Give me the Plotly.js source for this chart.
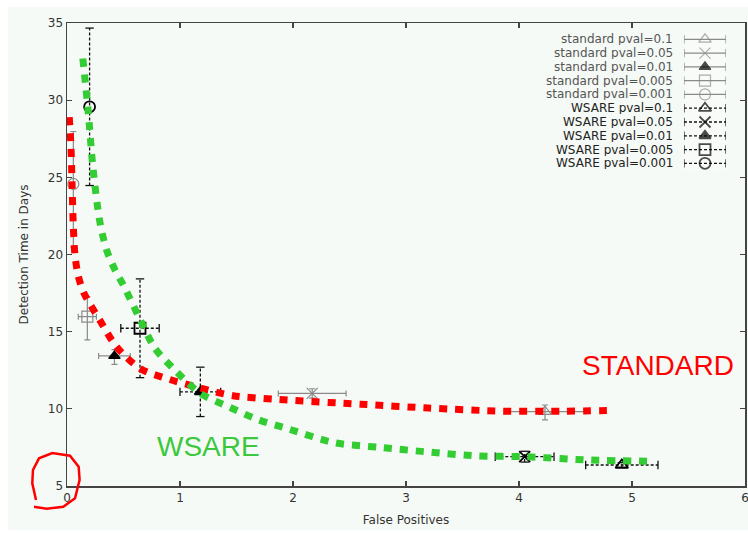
<!DOCTYPE html>
<html>
<head>
<meta charset="utf-8">
<script src="https://cdn.plot.ly/plotly-3.0.1.min.js"></script>
<style>html,body{margin:0;padding:0;background:#fff;}#chart{width:748px;height:533px;}</style>
</head>
<body>
<div id="chart"></div>
<script>
// ---- data ----
const pvals = ['0.1', '0.05', '0.01', '0.005', '0.001'];
const symbolsStd = ['triangle-up-open', 'x-thin-open', 'triangle-up', 'square-open', 'circle-open'];
const symbolsWs = ['triangle-up-open', 'x-thin-open', 'triangle-up', 'square-open', 'circle-open'];

// standard
const stdX = [4.23, 2.17, 0.42, 0.18, 0.056];
const stdY = [9.82, 11.0, 13.43, 15.97, 24.57];
const stdXErr = [0.36, 0.30, 0.14, 0.08, 0.0];
const stdYErrPlus = [0.43, 0.3, 0.4, 1.3, 3.4];
const stdYErrMinus = [0.54, 0.3, 0.55, 1.5, 4.1];

// WSARE
const wsX = [4.91, 4.05, 1.18, 0.646, 0.20];
const wsY = [6.36, 6.9, 11.1, 15.22, 29.57];
const wsXErr = [0.32, 0.26, 0.18, 0.17, 0.0];
const wsYErr = [0.15, 0.35, 1.6, 3.2, 5.1];

// fitted curves
const redX = [0.02, 0.035, 0.045, 0.055, 0.07, 0.1, 0.15, 0.29, 0.44, 0.65, 0.91, 1.18, 1.47, 1.88, 2.6, 3.2, 3.86, 4.4, 4.85];
const redY = [28.9, 27.0, 24.5, 22.0, 20.0, 18.6, 17.5, 15.75, 14.0, 12.6, 11.9, 11.35, 10.85, 10.6, 10.3, 10.05, 9.85, 9.85, 9.9];
const greenX = [0.14, 0.186, 0.23, 0.29, 0.35, 0.425, 0.5, 0.646, 0.78, 0.97, 1.18, 1.44, 1.69, 1.94, 2.37, 2.77, 3.2, 3.63, 4.04, 4.63, 5.2];
const greenY = [32.7, 29.4, 25.6, 22.15, 20.3, 19.0, 18.0, 15.8, 13.9, 12.4, 11.0, 10.1, 9.3, 8.74, 7.8, 7.5, 7.2, 6.95, 6.9, 6.68, 6.6];

const legendLabels = pvals.map(p => 'standard pval=' + p).concat(pvals.map(p => 'WSARE pval=' + p));

// ---- build traces ----
const FONT = 'DejaVu Sans, Arial, sans-serif';
const gray = '#8a8a8a';
const traces = [];

// standard points with native (solid) error bars
for (let i = 0; i < pvals.length; i++) {
  const filled = symbolsStd[i] === 'triangle-up';
  traces.push({
    x: [stdX[i]], y: [stdY[i]], type: 'scatter', mode: 'markers', showlegend: false,
    marker: {symbol: symbolsStd[i], size: filled ? 10 : 11,
             color: filled ? '#000' : gray,
             line: {color: filled ? '#000' : gray, width: 1.2}},
    error_x: {type: 'data', array: [stdXErr[i]], visible: stdXErr[i] > 0, color: gray, thickness: 1.2, width: 3},
    error_y: {type: 'data', array: [stdYErrPlus[i]], arrayminus: [stdYErrMinus[i]], symmetric: false, color: gray, thickness: 1.2, width: 3}
  });
}

// WSARE dashed error bars built from data
const wsSegX = [], wsSegY = [], capHX = [], capHY = [], capVX = [], capVY = [];
for (let i = 0; i < pvals.length; i++) {
  if (wsXErr[i] > 0) {
    wsSegX.push(wsX[i] - wsXErr[i], wsX[i] + wsXErr[i], null);
    wsSegY.push(wsY[i], wsY[i], null);
    capHX.push(wsX[i] - wsXErr[i], wsX[i] + wsXErr[i]);
    capHY.push(wsY[i], wsY[i]);
  }
  if (wsYErr[i] > 0) {
    wsSegX.push(wsX[i], wsX[i], null);
    wsSegY.push(wsY[i] - wsYErr[i], wsY[i] + wsYErr[i], null);
    capVX.push(wsX[i], wsX[i]);
    capVY.push(wsY[i] - wsYErr[i], wsY[i] + wsYErr[i]);
  }
}
traces.push({x: wsSegX, y: wsSegY, type: 'scatter', mode: 'lines', showlegend: false, hoverinfo: 'skip',
  line: {color: '#111', width: 1.3, dash: '3px,2px'}});
traces.push({x: capHX, y: capHY, type: 'scatter', mode: 'markers', showlegend: false, hoverinfo: 'skip',
  marker: {symbol: 'line-ns-open', size: 6, color: '#111', line: {color: '#111', width: 1.3}}});
traces.push({x: capVX, y: capVY, type: 'scatter', mode: 'markers', showlegend: false, hoverinfo: 'skip',
  marker: {symbol: 'line-ew-open', size: 6, color: '#111', line: {color: '#111', width: 1.3}}});
for (let i = 0; i < pvals.length; i++) {
  traces.push({
    x: [wsX[i]], y: [wsY[i]], type: 'scatter', mode: 'markers', showlegend: false,
    marker: {symbol: symbolsWs[i], size: symbolsWs[i] === 'triangle-up' ? 10 : 11, color: '#000',
             line: {color: '#000', width: 1.8}}
  });
}

// fitted dotted curves (on top)
traces.push({x: redX, y: redY, type: 'scatter', mode: 'lines', showlegend: false, hoverinfo: 'skip',
  line: {color: '#ff0000', width: 7, dash: '8px,8px', shape: 'spline', smoothing: 0.8}});
traces.push({x: greenX, y: greenY, type: 'scatter', mode: 'lines', showlegend: false, hoverinfo: 'skip',
  line: {color: '#33cc33', width: 7, dash: '8px,8px', shape: 'spline', smoothing: 0.8}});

// ---- legend (custom: text left, sample on the right) ----
const rows = legendLabels.map((_, i) => i + 1);
const lgStdLX = [], lgStdLY = [], lgWsLX = [], lgWsLY = [], lgCapX = [], lgCapY = [];
rows.forEach((r, i) => {
  if (i < 5) { lgStdLX.push(0, 1, null); lgStdLY.push(r, r, null); }
  else { lgWsLX.push(0, 1, null); lgWsLY.push(r, r, null); }
  lgCapX.push(0, 1); lgCapY.push(r, r);
});
const capColors = lgCapY.map(v => v <= 5 ? gray : '#111');
traces.push({x: lgStdLX, y: lgStdLY, xaxis: 'x2', yaxis: 'y2', type: 'scatter', mode: 'lines', showlegend: false, hoverinfo: 'skip',
  line: {color: gray, width: 1.2}});
traces.push({x: lgWsLX, y: lgWsLY, xaxis: 'x2', yaxis: 'y2', type: 'scatter', mode: 'lines', showlegend: false, hoverinfo: 'skip',
  line: {color: '#111', width: 1.3, dash: '3px,2px'}});
traces.push({x: lgCapX, y: lgCapY, xaxis: 'x2', yaxis: 'y2', type: 'scatter', mode: 'markers', showlegend: false, hoverinfo: 'skip',
  marker: {symbol: 'line-ns-open', size: 6, color: capColors, line: {color: capColors, width: 1.2}}});
const allSymbols = symbolsStd.concat(symbolsWs);
const sampleColors = rows.map(r => r <= 5 ? (r === 3 ? '#000' : gray) : '#000');
traces.push({x: rows.map(() => 0.5), y: rows, xaxis: 'x2', yaxis: 'y2', type: 'scatter', mode: 'markers', showlegend: false, hoverinfo: 'skip',
  marker: {symbol: allSymbols, size: allSymbols.map(s => s === 'triangle-up' ? 10 : 11),
           color: sampleColors,
           line: {color: sampleColors, width: rows.map(r => r <= 5 ? 1.2 : 1.8)}}});

const annotations = legendLabels.map((t, i) => ({
  text: t, xref: 'paper', yref: 'y2', x: 0.8957, y: i + 1, xanchor: 'right', yanchor: 'middle', showarrow: false,
  height: 12, borderpad: 0,
  font: {family: FONT, size: 12, color: i < 5 ? '#555' : '#222'}
}));
annotations.push({text: 'STANDARD', xref: 'x', yref: 'y', x: 5.23, y: 12.78, showarrow: false,
  font: {family: 'Liberation Sans, Arial, sans-serif', size: 28, color: '#ff0000'}});
annotations.push({text: 'WSARE', xref: 'x', yref: 'y', x: 1.25, y: 7.59, showarrow: false,
  font: {family: 'Liberation Sans, Arial, sans-serif', size: 28, color: '#3cc83c'}});

const circlePath = 'M -0.0457,-0.0302 L -0.0512,0.0058 L -0.0502,0.0346 L -0.0413,0.0598 L -0.0217,0.0711 ' +
  'L 0.0044,0.0653 L 0.0172,0.0417 L 0.0186,0.0130 L 0.0118,-0.0266 L -0.0055,-0.0447 L -0.0299,-0.0492 L -0.0487,-0.0447';

const axisCommon = {
  showgrid: false, zeroline: false, showline: true, linecolor: '#444', linewidth: 1.5, mirror: 'ticks',
  ticks: 'inside', ticklen: 5, tickcolor: '#444', tickwidth: 1.2, ticklabeloverflow: 'allow',
  tickfont: {family: FONT, size: 12, color: '#333'}
};

const layout = {
  width: 748, height: 533,
  margin: {l: 67, r: 3, t: 23, b: 47},
  paper_bgcolor: '#ffffff', plot_bgcolor: '#f8fbf8',
  xaxis: Object.assign({}, axisCommon, {range: [0, 6], tickvals: [0, 1, 2, 3, 4, 5, 6],
    title: {text: 'False Positives', font: {family: FONT, size: 12, color: '#333'}, standoff: 11}}),
  yaxis: Object.assign({}, axisCommon, {range: [5, 35], tickvals: [5, 10, 15, 20, 25, 30, 35],
    title: {text: 'Detection Time in Days', font: {family: FONT, size: 12, color: '#333'}, standoff: 16}}),
  xaxis2: {domain: [0.910, 0.972], range: [0, 1], anchor: 'y2', visible: false, fixedrange: true},
  yaxis2: {domain: [0.682, 0.9797], range: [10.5, 0.5], anchor: 'x2', visible: false, fixedrange: true},
  annotations: annotations,
  shapes: [
    {type: 'rect', xref: 'paper', yref: 'paper', x0: -0.087, x1: 1.0044, y0: -0.095, y1: 1.0346,
     fillcolor: '#f6faf6', line: {width: 0}, layer: 'below'},
    {type: 'path', xref: 'paper', yref: 'paper', path: circlePath, line: {color: '#ff0000', width: 2.5}}
  ],
  showlegend: false
};

Plotly.newPlot('chart', traces, layout, {displayModeBar: false, staticPlot: true});
</script>
</body>
</html>
